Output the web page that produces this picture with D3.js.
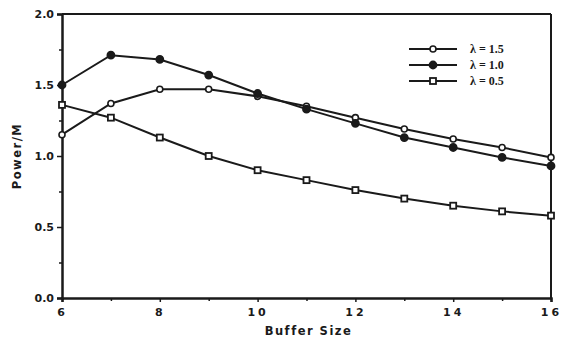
<!DOCTYPE html>
<html>
<head>
<meta charset="utf-8">
<script src="https://cdn.jsdelivr.net/npm/d3@7"></script>
<style>
  body { margin: 0; background: #fff; }
  svg { display: block; }
  .tick-label { font-family: "DejaVu Sans", sans-serif; font-weight: bold; font-size: 11px; fill: #1a1a1a; }
  .axis-title { font-family: "DejaVu Sans", sans-serif; font-weight: bold; font-size: 11.5px; fill: #1a1a1a; letter-spacing: 1.5px; }
  .legend-text { font-family: "Liberation Serif", serif; font-weight: bold; font-size: 12px; fill: #1a1a1a; }
</style>
</head>
<body>
<svg id="chart" width="561" height="343"></svg>
<script>
// Buffer sizes along the x axis
const bufferSizes = [6, 7, 8, 9, 10, 11, 12, 13, 14, 15, 16]

// Power/M for each lambda
const lambda15 = [1.15, 1.37, 1.47, 1.47, 1.42, 1.35, 1.27, 1.19, 1.12, 1.06, 0.99]
const lambda10 = [1.50, 1.71, 1.68, 1.57, 1.44, 1.33, 1.23, 1.13, 1.06, 0.99, 0.93]
const lambda05 = [1.36, 1.27, 1.13, 1.00, 0.90, 0.83, 0.76, 0.70, 0.65, 0.61, 0.58]

const xTicks = [6, 8, 10, 12, 14, 16]
const yTicks = [0.0, 0.5, 1.0, 1.5, 2.0]

const series = [
  { label: "\u03bb = 1.5", values: lambda15, marker: "openCircle" },
  { label: "\u03bb = 1.0", values: lambda10, marker: "filledCircle" },
  { label: "\u03bb = 0.5", values: lambda05, marker: "openSquare" }
]

const INK = "#1a1a1a"
const M = { left: 62, right: 10, top: 14, bottom: 45 }
const W = 561, H = 343

const svg = d3.select("#chart")
const x = d3.scaleLinear().domain([6, 16]).range([M.left, W - M.right])
const y = d3.scaleLinear().domain([0, 2]).range([H - M.bottom, M.top])

// frame: top and right edges
svg.append("line")
  .attr("x1", x(6)).attr("x2", x(16)).attr("y1", y(2)).attr("y2", y(2))
  .attr("stroke", INK).attr("stroke-width", 2)
svg.append("line")
  .attr("x1", x(16)).attr("x2", x(16)).attr("y1", y(2)).attr("y2", y(0))
  .attr("stroke", INK).attr("stroke-width", 2)

// x axis
const xAxis = svg.append("g").attr("transform", `translate(0,${y(0)})`)
  .call(d3.axisBottom(x).tickValues(xTicks).tickSize(4).tickFormat(d3.format("d")))
xAxis.append("g")
  .call(d3.axisBottom(x).tickValues(d3.range(7, 16, 2)).tickSize(3).tickFormat(""))
xAxis.selectAll(".domain").attr("stroke", INK).attr("stroke-width", 2.5)
xAxis.selectAll(".tick line").attr("stroke", INK).attr("stroke-width", 1.5)
xAxis.selectAll(".tick text").attr("class", "tick-label").attr("dy", "1em")
  .style("letter-spacing", "3px")
xAxis.selectAll("g > g > .domain").remove()

// y axis
const yAxis = svg.append("g").attr("transform", `translate(${x(6)},0)`)
  .call(d3.axisLeft(y).tickValues(yTicks).tickSize(5).tickFormat(d3.format(".1f")))
yAxis.append("g")
  .call(d3.axisLeft(y).tickValues([0.25, 0.75, 1.25, 1.75]).tickSize(3).tickFormat(""))
yAxis.selectAll(".domain").attr("stroke", INK).attr("stroke-width", 2.5)
yAxis.selectAll(".tick line").attr("stroke", INK).attr("stroke-width", 1.5)
yAxis.selectAll(".tick text").attr("class", "tick-label").attr("x", -8)
yAxis.selectAll("g > g > .domain").remove()

// axis titles
svg.append("text").attr("class", "axis-title")
  .attr("x", (x(6) + x(16)) / 2 + 2).attr("y", 335).attr("text-anchor", "middle")
  .text("Buffer Size")
svg.append("text").attr("class", "axis-title")
  .attr("transform", `translate(21,${(y(0) + y(2)) / 2}) rotate(-90)`)
  .attr("text-anchor", "middle")
  .text("Power/M")

// markers
function drawMarker(g, kind, cx, cy) {
  if (kind === "openSquare") {
    g.append("rect").attr("x", cx - 3).attr("y", cy - 3).attr("width", 6).attr("height", 6)
      .attr("fill", "#fff").attr("stroke", INK).attr("stroke-width", 1.8)
  } else {
    g.append("circle").attr("cx", cx).attr("cy", cy).attr("r", kind === "filledCircle" ? 3.6 : 3)
      .attr("fill", kind === "filledCircle" ? INK : "#fff")
      .attr("stroke", INK).attr("stroke-width", 1.6)
  }
}

const line = d3.line().x((d) => x(d[0])).y((d) => y(d[1]))

series.forEach((s) => {
  const pts = bufferSizes.map((b, i) => [b, s.values[i]])
  svg.append("path").datum(pts)
    .attr("d", line).attr("fill", "none").attr("stroke", INK).attr("stroke-width", 2)
  const g = svg.append("g")
  pts.forEach((p) => drawMarker(g, s.marker, x(p[0]), y(p[1])))
})

// legend
const legend = svg.append("g").attr("transform", "translate(409,49)")
series.forEach((s, i) => {
  const row = legend.append("g").attr("transform", `translate(0,${i * 16})`)
  row.append("line").attr("x1", 0).attr("x2", 48).attr("y1", 0).attr("y2", 0)
    .attr("stroke", INK).attr("stroke-width", 2)
  drawMarker(row, s.marker, 24, 0)
  row.append("text").attr("class", "legend-text").attr("x", 61).attr("y", 4).text(s.label)
})
</script>
</body>
</html>
